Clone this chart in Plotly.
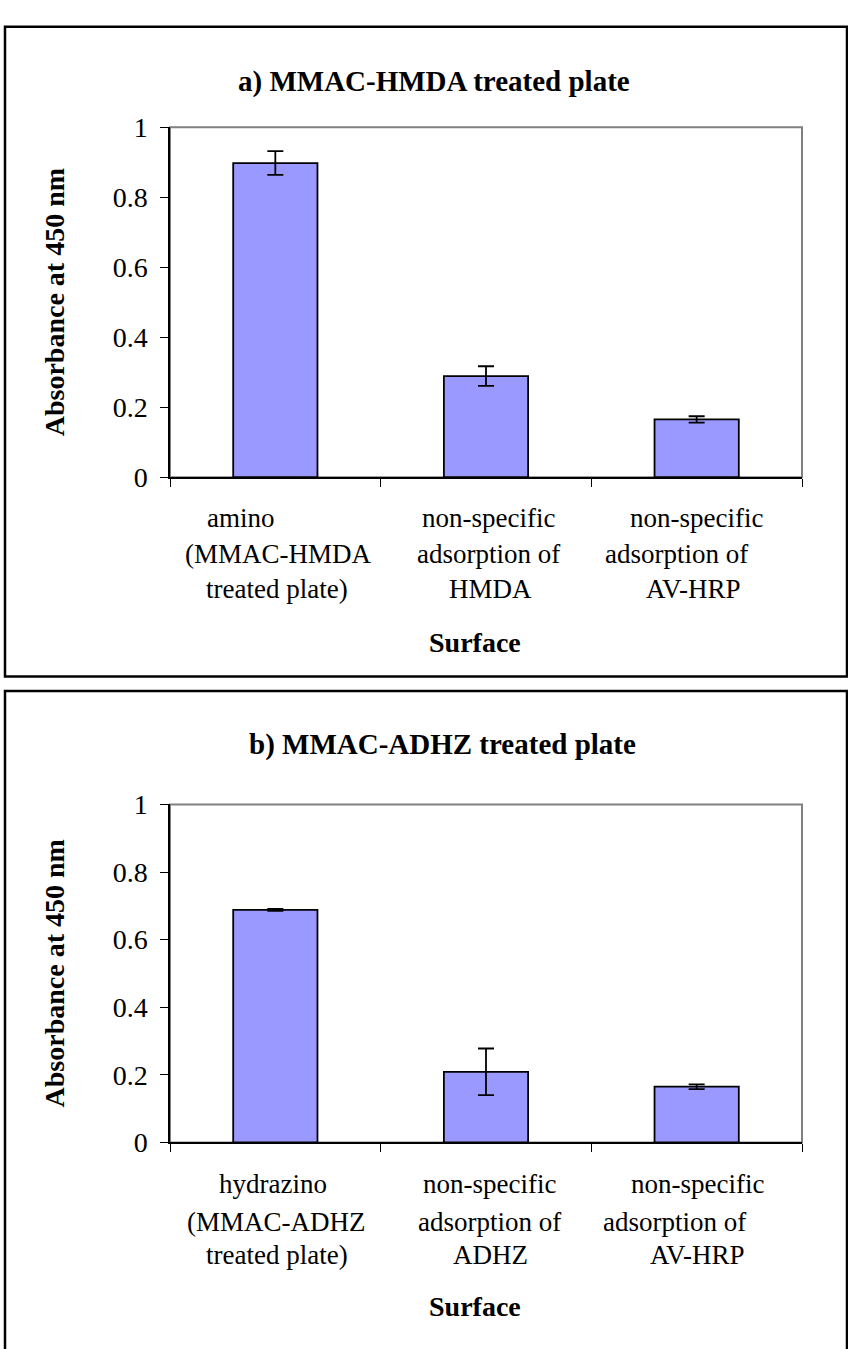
import plotly.graph_objects as go

W, H = 848, 1349

# ---------------- data ----------------
categories_a = ["amino (MMAC-HMDA treated plate)",
                "non-specific adsorption of HMDA",
                "non-specific adsorption of AV-HRP"]
values_a = [0.898, 0.289, 0.165]
errors_a = [0.034, 0.028, 0.009]

categories_b = ["hydrazino (MMAC-ADHZ treated plate)",
                "non-specific adsorption of ADHZ",
                "non-specific adsorption of AV-HRP"]
values_b = [0.688, 0.209, 0.165]
errors_b = [0.003, 0.069, 0.007]

label_lines_a = [["amino", "(MMAC-HMDA", "treated plate)"],
                 ["non-specific", "adsorption of", "HMDA"],
                 ["non-specific", "adsorption of", "AV-HRP"]]
label_lines_b = [["hydrazino", "(MMAC-ADHZ", "treated plate)"],
                 ["non-specific", "adsorption of", "ADHZ"],
                 ["non-specific", "adsorption of", "AV-HRP"]]

y_ticks = [0, 0.2, 0.4, 0.6, 0.8, 1]

title_a = "a) MMAC-HMDA treated plate"
title_b = "b) MMAC-ADHZ treated plate"
y_title = "Absorbance at 450 nm"
x_title = "Surface"

# ---------------- style / layout helpers ----------------
SERIF = "'Times New Roman', 'Liberation Serif', Tinos, 'DejaVu Serif', serif"
BAR_COLOR = "#9999FF"


def px(x):
    return x / W


def py(y):
    return 1 - y / H


fig = go.Figure()

fig.add_trace(go.Bar(
    x=categories_a, y=values_a,
    error_y=dict(type="data", array=errors_a, color="black", thickness=1.8, width=8),
    marker=dict(color=BAR_COLOR, line=dict(color="black", width=1.8)),
    xaxis="x", yaxis="y", showlegend=False, hoverinfo="skip"))

fig.add_trace(go.Bar(
    x=categories_b, y=values_b,
    error_y=dict(type="data", array=errors_b, color="black", thickness=1.8, width=8),
    marker=dict(color=BAR_COLOR, line=dict(color="black", width=1.8)),
    xaxis="x2", yaxis="y2", showlegend=False, hoverinfo="skip"))

xdom = [px(170), px(802)]
dom_a = [py(473), py(115)]
dom_b = [py(1154), py(808)]

xcommon = dict(type="category", showticklabels=False, ticks="outside", tickson="boundaries",
               ticklen=8, tickcolor="black", tickwidth=1.3, showline=True, linecolor="black",
               linewidth=1.5, showgrid=False, zeroline=False, range=[-0.5, 2.5], fixedrange=True)
ycommon = dict(range=[0, 1], tickvals=y_ticks, ticks="outside", ticklen=8, tickcolor="black",
               tickwidth=1.3, showline=True, linecolor="black", linewidth=1.5, showgrid=False,
               zeroline=False, tickfont=dict(family=SERIF, size=28, color="black"),
               ticklabelstandoff=7, fixedrange=True)

fig.update_layout(
    width=W, height=H,
    margin=dict(l=0, r=0, t=0, b=0),
    paper_bgcolor="white", plot_bgcolor="white",
    bargap=0.6,
    font=dict(family=SERIF),
    xaxis=dict(domain=xdom, anchor="y", **xcommon),
    yaxis=dict(domain=dom_a, anchor="x", **ycommon),
    xaxis2=dict(domain=xdom, anchor="y2", **xcommon),
    yaxis2=dict(domain=dom_b, anchor="x2", **ycommon),
)

shapes = []
# plot-area borders (grey, Excel style)
for xr, yr in (("x domain", "y domain"), ("x2 domain", "y2 domain")):
    shapes.append(dict(type="rect", xref=xr, yref=yr, x0=0, x1=1, y0=0, y1=1,
                       line=dict(color="#808080", width=2), layer="below"))
# panel frames
shapes.append(dict(type="rect", xref="paper", yref="paper", x0=px(5), x1=px(847),
                   y0=py(677), y1=py(12), line=dict(color="black", width=2.5)))
shapes.append(dict(type="rect", xref="paper", yref="paper", x0=px(5), x1=px(847),
                   y0=py(1500), y1=py(692), line=dict(color="black", width=2.5)))
fig.update_layout(shapes=shapes)

ann = []
tick_font = dict(family=SERIF, size=27, color="black")
bold_font = dict(family=SERIF, size=28, color="black")
title_font = dict(family=SERIF, size=29, color="black")

# titles
ann.append(dict(text=f"<b>{title_a}</b>", x=px(434), y=py(68), xref="paper", yref="paper",
                showarrow=False, font=title_font, xanchor="center", yanchor="middle"))
ann.append(dict(text=f"<b>{title_b}</b>", x=px(442), y=py(747), xref="paper", yref="paper",
                showarrow=False, font=title_font, xanchor="center", yanchor="middle"))
# y titles
ann.append(dict(text=f"<b>{y_title}</b>", x=px(54), y=py(294), xref="paper", yref="paper",
                showarrow=False, font=bold_font, textangle=-90, xanchor="center", yanchor="middle"))
ann.append(dict(text=f"<b>{y_title}</b>", x=px(54), y=py(981), xref="paper", yref="paper",
                showarrow=False, font=bold_font, textangle=-90, xanchor="center", yanchor="middle"))
# x titles
ann.append(dict(text=f"<b>{x_title}</b>", x=px(475), y=py(642), xref="paper", yref="paper",
                showarrow=False, font=bold_font, xanchor="center", yanchor="middle"))
ann.append(dict(text=f"<b>{x_title}</b>", x=px(475), y=py(1322), xref="paper", yref="paper",
                showarrow=False, font=bold_font, xanchor="center", yanchor="middle"))

# category labels, one annotation per line
shifts_a = [[-34, 3, 2], [2, 2, 4], [0, -20, -3]]
shifts_b = [[-2, 1, 2], [3, 3, 4], [1, -22, 1]]
rows_a = [515, 552, 587]
rows_b = [1197, 1235, 1269]
for xref, cats, lines, shifts, rows in (("x", categories_a, label_lines_a, shifts_a, rows_a),
                                         ("x2", categories_b, label_lines_b, shifts_b, rows_b)):
    for cat, ls, sh in zip(cats, lines, shifts):
        for line, s, r in zip(ls, sh, rows):
            ann.append(dict(text=line, x=cat, xref=xref, y=py(r), yref="paper", xshift=s,
                            showarrow=False, font=tick_font, xanchor="center", yanchor="middle"))

fig.update_layout(annotations=ann)

fig.write_html("out.html")
